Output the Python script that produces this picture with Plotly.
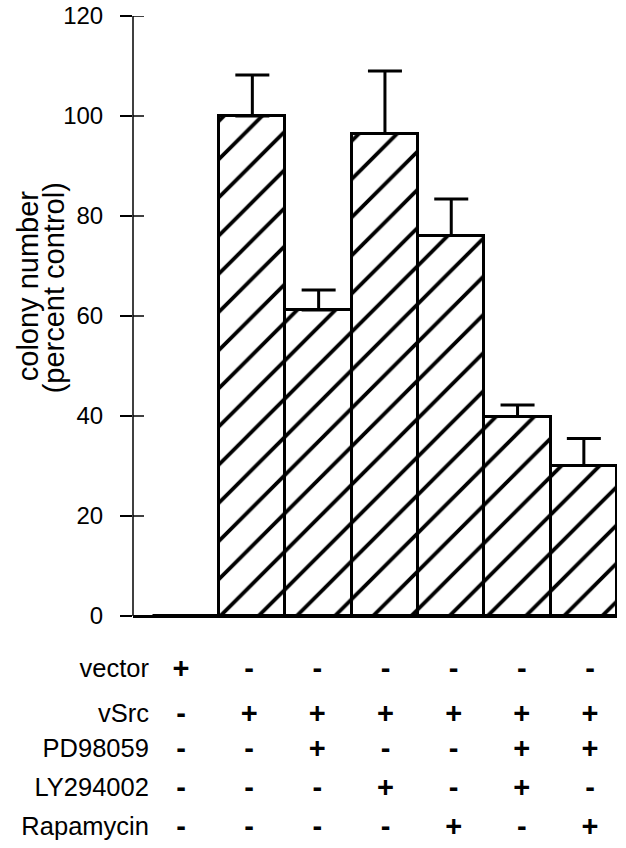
import plotly.graph_objects as go

# ---- data ----
conditions = ["vector", "vSrc", "vSrc+PD", "vSrc+LY", "vSrc+Rapa", "vSrc+PD+LY", "vSrc+PD+Rapa"]
colony_pct = [0, 100, 61.2, 96.5, 76.1, 39.9, 30.1]
colony_err = [0, 8.2, 4.0, 12.5, 7.3, 2.3, 5.4]
y_ticks = [0, 20, 40, 60, 80, 100, 120]

row_labels = ["vector", "vSrc", "PD98059", "LY294002", "Rapamycin"]
row_vector = ["+", "-", "-", "-", "-", "-", "-"]
row_vsrc = ["-", "+", "+", "+", "+", "+", "+"]
row_pd = ["-", "-", "+", "-", "-", "+", "+"]
row_ly = ["-", "-", "-", "+", "-", "+", "-"]
row_rapa = ["-", "-", "-", "-", "+", "-", "+"]
table_rows = [row_vector, row_vsrc, row_pd, row_ly, row_rapa]

# ---- layout helpers (positions only) ----
row_y = [-11, -20, -27, -34.8, -42.6]   # y-axis units below baseline
label_x = -0.56                          # x units, right edge of row labels
FONT = "Liberation Sans, Arial, Helvetica, sans-serif"

idx = list(range(len(conditions)))

fig = go.Figure()
fig.add_trace(go.Bar(
    x=idx, y=colony_pct, width=1,
    marker=dict(color="white",
                line=dict(color="black", width=3),
                pattern=dict(shape="/", fgcolor="black", bgcolor="white",
                             fgopacity=1, size=27, solidity=0.14)),
    error_y=dict(type="data", symmetric=False, array=colony_err,
                 arrayminus=[0] * len(colony_err), visible=True,
                 color="black", thickness=3, width=17),
    showlegend=False, hoverinfo="skip",
))

# treatment table (+/-) as a text trace on a secondary x scale
tx, ty, tt = [], [], []
for row, ry in zip(table_rows, row_y):
    for i, s in enumerate(row):
        tx.append(i)
        ty.append(ry)
        tt.append(s)
fig.add_trace(go.Scatter(
    x=tx, y=ty, text=tt, mode="text", textposition="middle center",
    textfont=dict(family=FONT, size=29, color="black", weight="bold"),
    xaxis="x2", yaxis="y", cliponaxis=False, showlegend=False, hoverinfo="skip",
))
fig.add_trace(go.Scatter(
    x=[label_x] * len(row_labels), y=row_y, text=row_labels, mode="text",
    textposition="middle left",
    textfont=dict(family=FONT, size=25.5, color="black"),
    xaxis="x", yaxis="y", cliponaxis=False, showlegend=False, hoverinfo="skip",
))

shapes = [dict(type="line", xref="paper", yref="y", x0=0, x1=0,
               y0=y_ticks[0], y1=y_ticks[-1], line=dict(color="black", width=1.5))]
for t in y_ticks:
    shapes.append(dict(type="line", xref="paper", yref="y", x0=0, x1=11 / 484,
                       y0=t, y1=t, line=dict(color="black", width=1.5)))

annotations = [
    dict(x=-0.218, xref="paper", y=0.675, yref="paper", text="colony number",
         textangle=-90, showarrow=False, xanchor="center", yanchor="middle",
         font=dict(family=FONT, size=29, color="black")),
    dict(x=-0.163, xref="paper", y=0.672, yref="paper", text="(percent control)",
         textangle=-90, showarrow=False, xanchor="center", yanchor="middle",
         font=dict(family=FONT, size=29, color="black")),
]

fig.update_layout(
    width=626, height=848,
    margin=dict(l=133, r=9, t=16, b=2),
    paper_bgcolor="white", plot_bgcolor="white",
    bargap=0,
    font=dict(family=FONT, color="black"),
    xaxis=dict(range=[-0.8, 6.5], showticklabels=False, ticks="",
               showgrid=False, zeroline=False, showline=False),
    xaxis2=dict(range=[-0.704, 6.396], overlaying="x", visible=False),
    yaxis=dict(range=[-46, 120], tickvals=y_ticks, ticks="outside", ticklen=12,
               tickwidth=1.5, tickcolor="black", showgrid=False,
               zeroline=True, zerolinecolor="black", zerolinewidth=3,
               showline=False, ticklabelstandoff=12,
               tickfont=dict(family=FONT, size=24, color="black")),
    shapes=shapes,
    annotations=annotations,
)

fig.write_html("out.html")
